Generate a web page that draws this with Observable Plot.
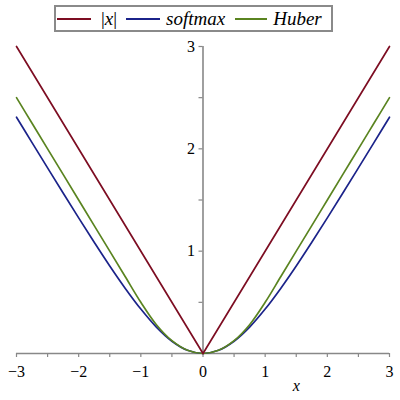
<!DOCTYPE html>
<html><head><meta charset="utf-8">
<script src="https://cdn.jsdelivr.net/npm/d3@7"></script>
<script src="https://cdn.jsdelivr.net/npm/@observablehq/plot@0.6"></script>
<style>
body{margin:0;background:#fff;width:400px;height:400px;overflow:hidden;font-family:"Liberation Serif",serif;}
#legend{position:relative;height:36px;}
#box{position:absolute;left:54px;top:5px;width:275px;height:23px;border:2px solid #8a8a8a;display:flex;align-items:center;font-size:19px;color:#000;}
.ln{display:inline-block;height:0;border-top:2px solid;}
.lb{white-space:nowrap;line-height:1;}
#chart svg, #chart svg text{font-family:"Liberation Serif",serif !important;}
</style></head>
<body>
<div id="legend"><div id="box"></div></div>
<div id="chart"></div>
<script>
const xs = [-3,-2.75,-2.5,-2.25,-2,-1.75,-1.5,-1.25,-1,-0.75,-0.5,-0.25,0,0.25,0.5,0.75,1,1.25,1.5,1.75,2,2.25,2.5,2.75,3];
const absX = [-3,0,3];
const absVals = [3,0,3];
const softmaxVals = [2.309,2.061,1.814,1.568,1.325,1.087,0.855,0.636,0.434,0.258,0.120,0.031,0,0.031,0.120,0.258,0.434,0.636,0.855,1.087,1.325,1.568,1.814,2.061,2.309];
const huberVals = [2.5,2.25,2,1.75,1.5,1.25,1,0.75,0.5,0.281,0.125,0.031,0,0.031,0.125,0.281,0.5,0.75,1,1.25,1.5,1.75,2,2.25,2.5];
const seriesNames = ["|x|","softmax","Huber"];
const seriesColors = ["#7d0d22","#1b238a","#5a8420"];
const xTicks = [-3,-2.5,-2,-1.5,-1,-0.5,0,0.5,1,1.5,2,2.5,3];
const yTicks = [0.5,1,1.5,2,2.5,3];
const yLabels = [1,2,3];

// legend
const box = document.getElementById("box");
const legendGaps = [[1,10],[9,6],[10,6]];
const lineLens = [34,34,32];
seriesNames.forEach((n,i)=>{
  const l = document.createElement("span");
  l.className="ln"; l.style.borderTopColor=seriesColors[i];
  l.style.width=lineLens[i]+"px"; l.style.marginLeft=legendGaps[i][0]+"px";
  box.appendChild(l);
  const t = document.createElement("span");
  t.className="lb"; t.style.marginLeft=legendGaps[i][1]+"px";
  if(i===0){ t.innerHTML='|<i>x</i>|'; } else { t.innerHTML='<i>'+n+'</i>'; }
  box.appendChild(t);
});

const absData = absX.map((x,i)=>({x, y:absVals[i], s:seriesNames[0]}));
const curveData = [];
[[softmaxVals,1],[huberVals,2]].forEach(([v,k])=>xs.forEach((x,i)=>curveData.push({x, y:v[i], s:seriesNames[k]})));

const fmt = d => Number.isInteger(d) ? (d<0 ? "\u2212"+(-d) : String(d)) : "";
const axisColor = "#888";
const ff = "Liberation Serif";

const chart = Plot.plot({
  width:400, height:364,
  marginTop:10, marginBottom:47, marginLeft:16, marginRight:11,
  x:{domain:[-3,3]}, y:{domain:[0,3], axis:null},
  color:{domain:seriesNames, range:seriesColors},
  style:{fontSize:"16px", color:"#000", background:"#fff"},
  marks:[
    Plot.ruleY([0],{stroke:axisColor,strokeWidth:1.6}),
    Plot.ruleX([0],{stroke:axisColor,strokeWidth:1.6}),
    Plot.axisX({ticks:xTicks, tickSize:4, tickPadding:8, tickFormat:fmt, label:null, stroke:axisColor, strokeWidth:1.2, fill:"#000", fontSize:16, fontFamily:ff}),
    Plot.ruleY(yTicks,{x1:0, x2:0, insetLeft:-4, stroke:axisColor, strokeWidth:1.2}),
    Plot.text(yLabels,{x:0, y:d=>d, dx:-8, textAnchor:"end", text:d=>String(d), fontSize:16, fill:"#000", fontFamily:ff}),
    Plot.text(["x"],{x:1.5, y:0, dy:32, text:d=>d, fontStyle:"italic", fontSize:16, fill:"#000", fontFamily:ff}),
    Plot.line(curveData,{x:"x", y:"y", z:"s", stroke:"s", strokeWidth:1.7, curve:"catmull-rom"}),
    Plot.line(absData,{x:"x", y:"y", stroke:"s", strokeWidth:1.7})
  ]
});
document.getElementById("chart").appendChild(chart);
</script>
</body></html>
